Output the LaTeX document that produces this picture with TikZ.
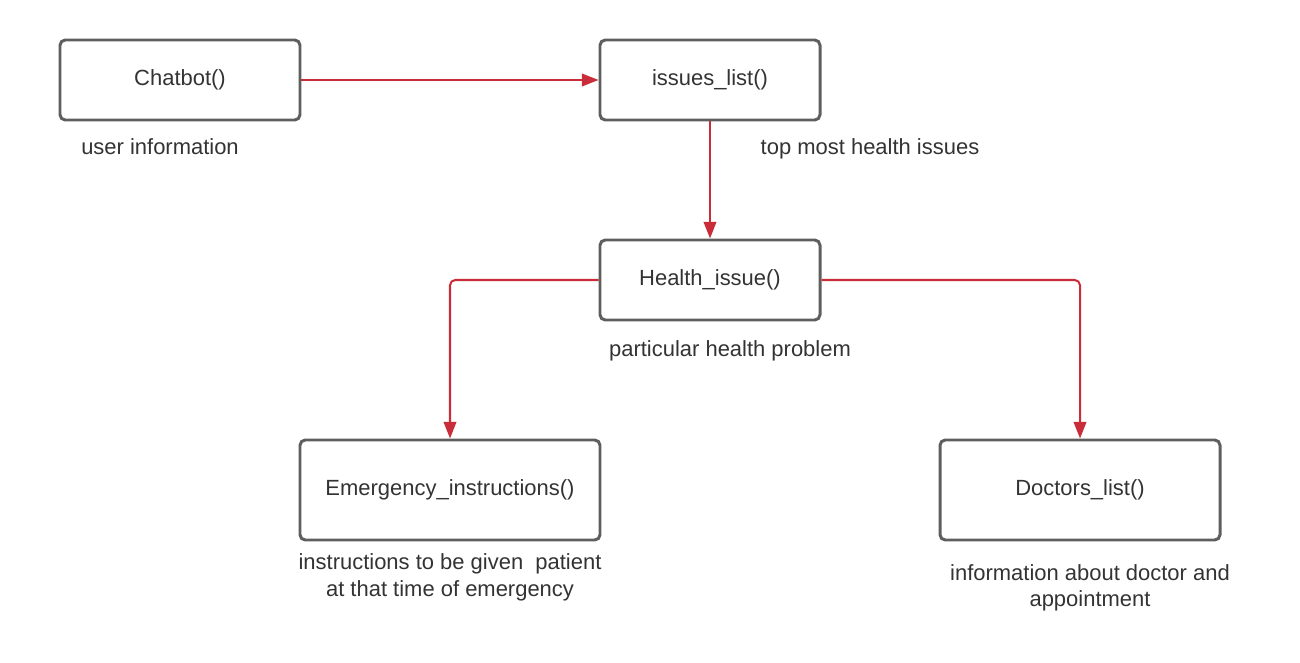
\documentclass[tikz,border=0pt]{standalone}
\usepackage{fontspec}
\setmainfont{Liberation Sans}
\usetikzlibrary{arrows.meta}
\definecolor{boxgray}{HTML}{5E5E5E}
\definecolor{linkred}{HTML}{C92D39}
\definecolor{txtgray}{HTML}{333333}

\begin{document}
\begin{tikzpicture}[
    fn/.style={draw=boxgray, line width=1.7pt, rounded corners=3pt, minimum height=1.6cm,
      text=txtgray, font=\fontsize{12.5}{14.8}\selectfont},
    note/.style={text=txtgray, anchor=base, align=center, font=\fontsize{12.5}{14.8}\selectfont},
    link/.style={draw=linkred, line width=1.15pt, rounded corners=3pt,
      -{Triangle[length=9.5pt,width=7.2pt]}}]
        \useasboundingbox (0,0) rectangle (26,13.24);

        \node[fn, minimum width=4.8cm] (chatbot) at (3.6,11.64) {Chatbot()};
        \node[fn, minimum width=4.4cm] (issues) at (14.2,11.64) {issues\_list()};
        \node[fn, minimum width=4.4cm] (health) at (14.2,7.64) {Health\_issue()};
        \node[fn, minimum width=6cm, minimum height=2cm] (emergency) at (9,3.44) {Emergency\_instructions()};
        \node[fn, minimum width=5.6cm, minimum height=2cm] (doctors) at (21.6,3.44) {Doctors\_list()};

        \node[note] (userinfo) at (3.2,10.14) {user information};
        \node[note] (topissues) at (17.4,10.14) {top most health issues};
        \node[note] (problem) at (14.6,6.12) {particular health problem};
        \node[note] (emerginfo) at (9,1.32) {instructions to be given\ \ patient\\at that time of emergency};
        \node[note] (doctorinfo) at (21.8,1.11) {information about doctor and\\appointment};

        \draw[link] (chatbot) -- (issues);
        \draw[link] (issues) -- (health);
        \draw[link] (health.west) -| (emergency.north);
        \draw[link] (health.east) -| (doctors.north);
      \end{tikzpicture}
\end{document}
